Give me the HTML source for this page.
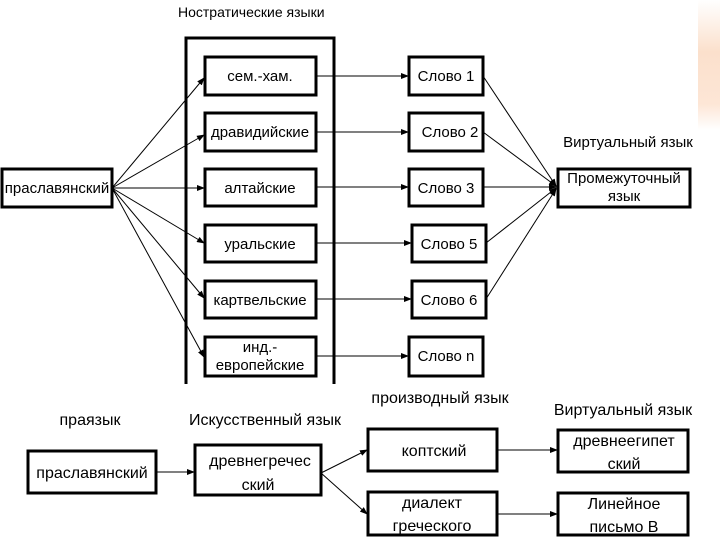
<!DOCTYPE html>
<html><head><meta charset="utf-8"><style>
body{margin:0;width:720px;height:540px;background:#fff;overflow:hidden;position:relative;font-family:"Liberation Sans",sans-serif}
.g{position:absolute;right:0;top:0;width:22px;height:130px;background:linear-gradient(#fff,#fbe0cc 40%,#fde6d6 80%,#fff)}
</style></head><body>
<div class="g"></div>
<svg width="720" height="540" style="position:absolute;left:0;top:0" font-family="Liberation Sans, sans-serif" font-size="15">
<defs><marker id="a" markerWidth="8" markerHeight="6" refX="7" refY="3" orient="auto" markerUnits="userSpaceOnUse"><path d="M0,0L8,3L0,6z" fill="#000"/></marker></defs>
<text x="178" y="17" font-size="14">Ностратические языки</text>
<path d="M186,384V38H334V384" fill="none" stroke="#000" stroke-width="3"/>
<g fill="#fff" stroke="#000" stroke-width="3">
<rect x="2" y="169" width="110" height="38"/>
<rect x="205" y="57" width="111" height="38"/>
<rect x="205" y="113" width="111" height="38"/>
<rect x="205" y="169" width="111" height="37"/>
<rect x="205" y="225" width="111" height="37"/>
<rect x="205" y="281" width="111" height="37"/>
<rect x="205" y="337" width="111" height="39"/>
<rect x="409" y="57" width="74" height="38"/>
<rect x="409" y="113" width="74" height="38"/>
<rect x="409" y="169" width="74" height="37"/>
<rect x="412" y="225" width="74" height="37"/>
<rect x="412" y="281" width="74" height="37"/>
<rect x="409" y="337" width="74" height="39"/>
<rect x="558" y="169" width="132" height="38"/>
<rect x="28" y="451" width="128" height="42"/>
<rect x="195" y="445" width="126" height="50"/>
<rect x="368" y="429" width="129" height="42"/>
<rect x="368" y="492" width="129" height="43"/>
<rect x="558" y="430" width="130" height="42"/>
<rect x="558" y="493" width="130" height="42"/>
</g>
<g stroke="#000" stroke-width="1" fill="none" marker-end="url(#a)">
<line x1="112" y1="188" x2="204" y2="78"/>
<line x1="112" y1="188" x2="204" y2="135"/>
<line x1="112" y1="188" x2="204" y2="188"/>
<line x1="112" y1="188" x2="204" y2="243"/>
<line x1="112" y1="188" x2="204" y2="298"/>
<line x1="112" y1="188" x2="204" y2="357"/>
<line x1="316" y1="76" x2="408" y2="76"/>
<line x1="316" y1="132" x2="408" y2="132"/>
<line x1="316" y1="187" x2="408" y2="187"/>
<line x1="316" y1="243" x2="411" y2="243"/>
<line x1="316" y1="299" x2="411" y2="299"/>
<line x1="316" y1="356" x2="408" y2="356"/>
<line x1="483" y1="76" x2="556" y2="186"/>
<line x1="483" y1="132" x2="556" y2="186"/>
<line x1="483" y1="187" x2="556" y2="187"/>
<line x1="486" y1="243" x2="556" y2="188"/>
<line x1="486" y1="299" x2="556" y2="189"/>
<line x1="156" y1="472" x2="194" y2="472"/>
<line x1="321" y1="473" x2="367" y2="450"/>
<line x1="321" y1="473" x2="367" y2="514"/>
<line x1="497" y1="450" x2="557" y2="450"/>
<line x1="497" y1="514" x2="557" y2="514"/>
</g>
<g text-anchor="middle">
<text x="57" y="193">праславянский</text>
<text x="260" y="81">сем.-хам.</text>
<text x="260" y="137">дравидийские</text>
<text x="260" y="193">алтайские</text>
<text x="260" y="249">уральские</text>
<text x="260" y="305">картвельские</text>
<text x="260" y="352">инд.-</text>
<text x="260" y="370">европейские</text>
<text x="446" y="81">Слово 1</text>
<text x="450" y="137">Слово 2</text>
<text x="446" y="193">Слово 3</text>
<text x="449" y="249">Слово 5</text>
<text x="449" y="305">Слово 6</text>
<text x="446" y="361">Слово n</text>
<text x="624" y="183">Промежуточный</text>
<text x="624" y="201">язык</text>
<text x="628" y="147">Виртуальный язык</text>
</g>
<g text-anchor="middle" font-size="16">
<text x="90" y="425">праязык</text>
<text x="265" y="425">Искусственный язык</text>
<text x="440" y="403">производный язык</text>
<text x="623" y="415">Виртуальный язык</text>
<text x="92" y="478">праславянский</text>
<text x="260" y="466">древнегречес</text>
<text x="258" y="490">ский</text>
<text x="434" y="456">коптский</text>
<text x="432" y="508">диалект</text>
<text x="432" y="531">греческого</text>
<text x="624" y="446">древнеегипет</text>
<text x="624" y="469">ский</text>
<text x="624" y="509">Линейное</text>
<text x="624" y="532">письмо В</text>
</g>
</svg>
</body></html>
